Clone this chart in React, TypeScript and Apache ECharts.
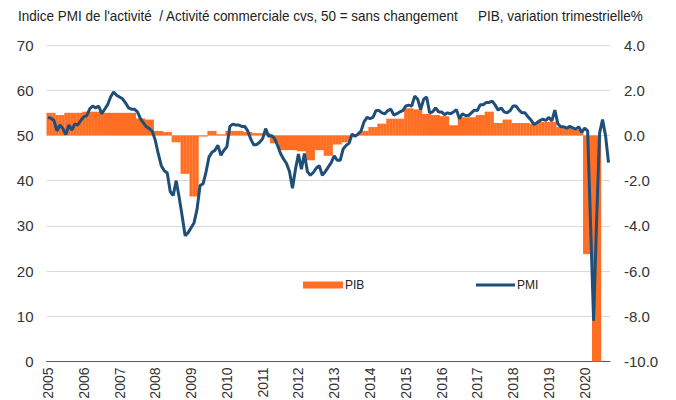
import React, { useEffect, useRef } from 'react';
import * as echarts from 'echarts';

const years = ['2005', '2006', '2007', '2008', '2009', '2010', '2011', '2012', '2013', '2014', '2015', '2016', '2017', '2018', '2019', '2020'];

// Monthly PMI (Jan 2005 - Sep 2020), left axis
const pmi2005 = [54.0, 53.8, 53.3, 51.0, 52.3, 51.5, 50.2, 52.3, 51.2, 52.5, 52.3, 53.3];
const pmi2006 = [54.1, 54.4, 55.9, 56.5, 56.1, 56.5, 54.8, 55.8, 56.8, 58.5, 59.6, 58.9];
const pmi2007 = [58.5, 58.1, 57.2, 56.1, 55.8, 55.8, 55.2, 53.7, 52.8, 51.9, 51.5, 50.9];
const pmi2008 = [48.9, 45.9, 43.3, 42.2, 41.7, 37.6, 36.7, 40.0, 36.3, 32.2, 27.8, 28.5];
const pmi2009 = [29.6, 30.7, 33.7, 38.9, 39.3, 41.9, 45.2, 46.3, 46.7, 47.8, 45.6, 46.7];
const pmi2010 = [47.5, 52.0, 52.5, 52.3, 52.3, 52.0, 52.0, 51.0, 49.2, 47.9, 48.0, 48.5];
const pmi2011 = [49.3, 51.5, 49.8, 50.0, 49.3, 47.8, 46.0, 44.8, 43.8, 42.0, 38.3, 42.5];
const pmi2012 = [45.9, 42.5, 46.0, 42.0, 41.2, 41.8, 42.8, 43.3, 41.2, 42.0, 43.0, 44.0];
const pmi2013 = [45.5, 44.5, 44.5, 47.0, 47.8, 48.3, 50.3, 49.8, 50.3, 51.0, 53.0, 54.0];
const pmi2014 = [53.7, 54.0, 55.5, 55.5, 55.0, 54.8, 55.5, 55.8, 54.5, 54.8, 55.2, 55.5];
const pmi2015 = [56.5, 56.7, 56.5, 58.7, 58.0, 55.7, 58.0, 58.5, 55.0, 55.2, 56.1, 55.2];
const pmi2016 = [55.2, 54.6, 55.0, 54.8, 55.2, 55.7, 53.7, 54.8, 54.4, 54.4, 55.0, 55.6];
const pmi2017 = [55.5, 56.8, 56.8, 57.3, 57.3, 57.6, 56.7, 55.6, 56.1, 55.2, 55.0, 55.5];
const pmi2018 = [56.5, 56.5, 55.6, 55.0, 55.0, 54.1, 53.4, 52.4, 52.8, 53.3, 53.6, 53.3];
const pmi2019 = [54.0, 53.2, 55.6, 52.6, 51.9, 51.9, 51.6, 52.0, 51.7, 51.4, 51.9, 50.7];
const pmi2020 = [51.6, 51.0, 30.0, 9.0, 31.0, 50.5, 53.5, 50.0, 44.0];

const pmi = [
  ...pmi2005, ...pmi2006, ...pmi2007, ...pmi2008, ...pmi2009, ...pmi2010, ...pmi2011, ...pmi2012,
  ...pmi2013, ...pmi2014, ...pmi2015, ...pmi2016, ...pmi2017, ...pmi2018, ...pmi2019, ...pmi2020,
];

// Quarterly GDP change (Q1 2005 - Q2 2020), right axis
const gdpQuarterly = [
  1.0, 0.9, 1.0, 1.0,
  1.05, 1.05, 1.0, 1.0,
  1.0, 1.0, 0.75, 0.7,
  0.2, 0.15, -0.3, -1.7,
  -2.7, -0.05, 0.2, 0.05,
  0.2, 0.2, 0.15, 0.1,
  0.1, -0.35, -0.65, -0.65,
  -0.7, -1.1, -0.65, -0.9,
  -0.4, -0.3, 0.05, 0.2,
  0.37, 0.52, 0.74, 0.74,
  1.2, 1.15, 0.95, 0.9,
  0.85, 0.45, 0.8, 0.8,
  0.9, 1.05, 0.55, 0.7,
  0.55, 0.55, 0.5, 0.6,
  0.6, 0.37, 0.37, 0.25,
  -5.25, -13.8,
];

const leftTitle = "Indice PMI de l'activité  / Activité commerciale cvs, 50 = sans changement";
const rightTitle = 'PIB, variation trimestrielle%';
const pibName = 'PIB';
const pmiName = 'PMI';

const months: string[] = pmi.map((_, i) => `${years[Math.floor(i / 12)]}-${String((i % 12) + 1).padStart(2, '0')}`);
const gdpMonthly = months.map((_, i) => {
  const q = Math.floor(i / 3);
  return q < gdpQuarterly.length ? gdpQuarterly[q] : null;
});

const axisFont = 'Liberation Sans, Arial, sans-serif';

export default function App() {
  const ref = useRef<HTMLDivElement>(null);

  useEffect(() => {
    document.body.style.margin = '0';
    if (!ref.current) return;
    const chart = echarts.init(ref.current, undefined, { renderer: 'svg' });
    chart.setOption({
      animation: false,
      backgroundColor: '#ffffff',
      grid: { left: 46.5, right: 66, top: 45, bottom: 38.5, outerBoundsMode: 'none', containLabel: false },
      graphic: [
        {
          type: 'text',
          x: 18,
          y: 8,
          scaleX: 0.9,
          style: { text: leftTitle, fontFamily: axisFont, fontSize: 15, fill: '#222' },
        },
        {
          type: 'text',
          x: 478,
          y: 8,
          scaleX: 0.9,
          style: { text: rightTitle, fontFamily: axisFont, fontSize: 15, fill: '#222' },
        },
      ],
      legend: [
        {
          data: [pibName],
          left: 303,
          top: 279,
          padding: 0,
          itemWidth: 40,
          itemHeight: 7,
          itemGap: 0,
          icon: 'rect',
          selectedMode: false,
          textStyle: { fontFamily: axisFont, fontSize: 12, color: '#222', padding: [0, 0, 0, -3] },
        },
        {
          data: [pmiName],
          left: 476,
          top: 279,
          padding: 0,
          itemWidth: 39,
          itemHeight: 3,
          icon: 'rect',
          selectedMode: false,
          textStyle: { fontFamily: axisFont, fontSize: 12, color: '#222', padding: [0, 0, 0, -3] },
        },
      ],
      xAxis: {
        type: 'category',
        data: months,
        boundaryGap: true,
        axisLine: { lineStyle: { color: '#595959', width: 1 } },
        axisTick: {
          interval: (i: number) => i % 12 === 0,
          length: 5,
          lineStyle: { color: '#595959' },
        },
        axisLabel: {
          interval: (i: number) => i % 12 === 0,
          formatter: (v: string) => v.slice(0, 4),
          rotate: 90,
          margin: 6,
          fontSize: 14,
          color: '#333',
          fontFamily: axisFont,
        },
        splitLine: { show: false },
      },
      yAxis: [
        {
          type: 'value',
          min: 0,
          max: 70,
          interval: 10,
          position: 'left',
          axisLine: { show: false },
          axisTick: { show: false },
          axisLabel: { margin: 13, fontSize: 15, color: '#333', fontFamily: axisFont },
          splitLine: { lineStyle: { color: '#d9d9d9', width: 1 } },
        },
        {
          type: 'value',
          min: -10,
          max: 4,
          interval: 2,
          position: 'right',
          axisLine: { show: false },
          axisTick: { show: false },
          axisLabel: {
            margin: 14,
            fontSize: 15,
            color: '#333',
            fontFamily: axisFont,
            formatter: (v: number) => v.toFixed(1),
          },
          splitLine: { show: false },
        },
      ],
      series: [
        {
          name: pibName,
          type: 'bar',
          yAxisIndex: 1,
          data: gdpMonthly,
          barWidth: 3.2,
          itemStyle: { color: '#FF6E22' },
          clip: true,
          z: 2,
        },
        {
          name: pmiName,
          type: 'line',
          yAxisIndex: 0,
          data: pmi,
          showSymbol: false,
          symbol: 'none',
          lineStyle: { width: 3, color: '#1F4E79' },
          itemStyle: { color: '#1F4E79' },
          z: 3,
        },
      ],
    });
    return () => chart.dispose();
  }, []);

  return <div ref={ref} style={{ width: 676, height: 400 }} />;
}
